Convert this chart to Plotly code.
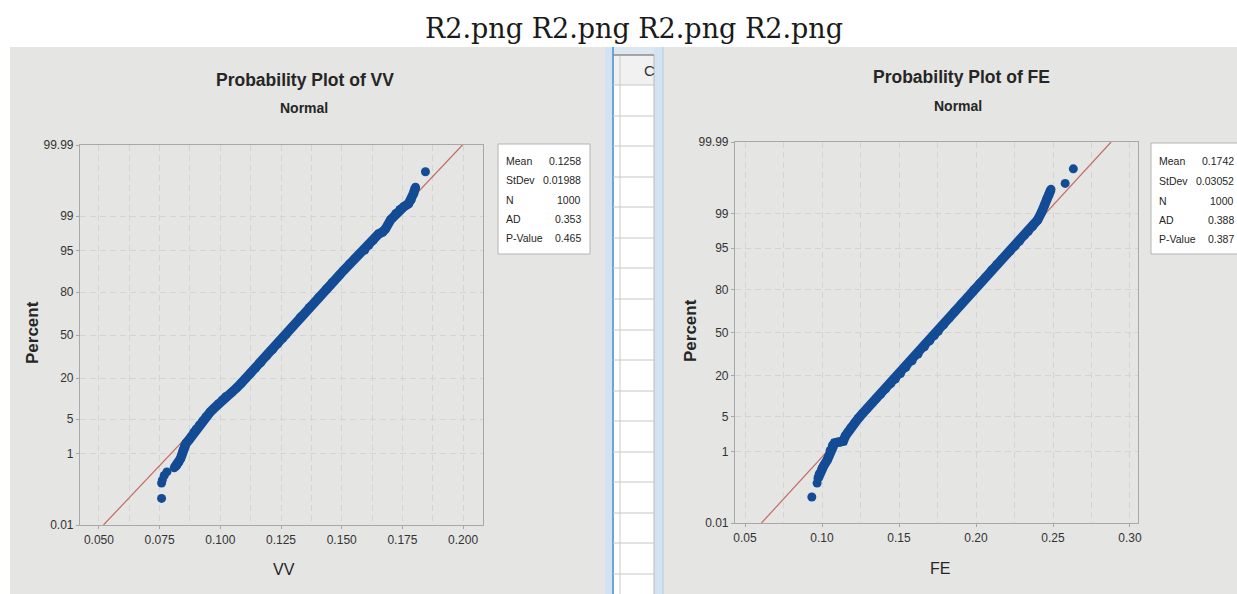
from statistics import NormalDist
import plotly.graph_objects as go

W, H = 1237, 594
ND = NormalDist()

# ---------------------------------------------------------------- data ----
# VV sample: ordered values with their plotting-position percentages
vv_values = [0.0758, 0.0758, 0.0761, 0.0769, 0.0780,
             0.0810, 0.0821, 0.0829, 0.0836, 0.0842, 0.0846, 0.0852, 0.0859, 0.0870, 0.0880,
             0.0891, 0.0901, 0.0914, 0.0927, 0.0941, 0.0958, 0.0973, 0.0991, 0.1008, 0.1021,
             0.1048, 0.1066, 0.1085, 0.1105, 0.1125, 0.1145, 0.1167, 0.1191, 0.1216, 0.1237,
             0.1258, 0.1271, 0.1295, 0.1330, 0.1367, 0.1406, 0.1437, 0.1462, 0.1490, 0.1507,
             0.1532, 0.1553, 0.1568, 0.1595, 0.1612, 0.1630, 0.1652, 0.1668, 0.1680, 0.1702,
             0.1723, 0.1740, 0.1756, 0.1775, 0.1786, 0.1796, 0.1804,
             0.1845]
vv_percent = [0.069, 0.187, 0.226, 0.298, 0.368,
              0.466, 0.539, 0.639, 0.776, 0.964, 1.19, 1.46, 1.70, 1.97, 2.33,
              2.87, 3.29, 3.92, 4.65, 5.48, 6.55, 7.49, 8.85, 10.2, 11.3,
              13.1, 14.9, 17.1, 19.8, 22.7, 25.8, 29.5, 34.1, 39.0, 43.2,
              47.6, 50.4, 56.0, 63.7, 70.5, 77.0, 81.6, 84.8, 87.9, 89.6,
              91.8, 93.2, 94.1, 95.2, 96.1, 96.8, 97.6, 97.8, 98.1, 98.8,
              99.13, 99.30, 99.40, 99.49, 99.59, 99.72, 99.81,
              99.93]
vv_dense = (5, 62)          # index run where the points merge into a band

# FE sample
fe_values = [0.0934, 0.0968, 0.0974, 0.0982, 0.1000, 0.1013,
             0.1034, 0.1045, 0.1053, 0.1068, 0.1082, 0.1100, 0.1118, 0.1138, 0.1152,
             0.1168, 0.1186, 0.1210, 0.1235, 0.1264, 0.1291, 0.1322, 0.1352, 0.1382,
             0.1414, 0.1447, 0.1476, 0.1510, 0.1545, 0.1585, 0.1624, 0.1665, 0.1700,
             0.1730, 0.1755, 0.1790, 0.1826, 0.1863, 0.1906, 0.1945, 0.1985, 0.2022,
             0.2062, 0.2102, 0.2136, 0.2168, 0.2200, 0.2222, 0.2253, 0.2283, 0.2314,
             0.2340, 0.2368, 0.2400, 0.2425, 0.2445, 0.2460, 0.2474, 0.2487,
             0.2579, 0.2632]
fe_percent = [0.066, 0.164, 0.219, 0.289, 0.40, 0.48,
              0.64, 0.80, 1.07, 1.39, 1.55, 1.60, 1.62, 1.70, 2.17,
              2.62, 3.14, 3.84, 4.65, 5.71, 6.81, 8.23, 9.85, 11.5,
              13.6, 15.9, 18.1, 21.2, 24.8, 29.1, 33.7, 39.0, 43.6,
              47.6, 51.0, 56.0, 61.0, 65.9, 71.2, 75.5, 79.7, 82.9,
              86.0, 88.9, 90.8, 92.4, 93.7, 94.4, 95.4, 96.3, 97.1,
              97.6, 98.1, 98.6, 99.04, 99.34, 99.55, 99.65, 99.74,
              99.82, 99.93]
fe_dense = (2, 59)

percent_ticks = [0.01, 1, 5, 20, 50, 80, 95, 99, 99.99]
percent_labels = ["0.01", "1", "5", "20", "50", "80", "95", "99", "99.99"]

vv_ticks = [0.050, 0.075, 0.100, 0.125, 0.150, 0.175, 0.200]
vv_tick_labels = ["0.050", "0.075", "0.100", "0.125", "0.150", "0.175", "0.200"]
fe_ticks = [0.05, 0.10, 0.15, 0.20, 0.25, 0.30]
fe_tick_labels = ["0.05", "0.10", "0.15", "0.20", "0.25", "0.30"]

stat_names = ["Mean", "StDev", "N", "AD", "P-Value"]
vv_stats = ["0.1258", "0.01988", "1000", "0.353", "0.465"]
fe_stats = ["0.1742", "0.03052", "1000", "0.388", "0.387"]
vv_mean, vv_sd = 0.1258, 0.01988
fe_mean, fe_sd = 0.1742, 0.03052

# ---------------------------------------------------------------- style ---
BLUE = "#134b95"
FIT = "#c46a64"
GRID = "#d4d4d4"
FRAME = "#a8a8a8"
PANEL = "#e5e5e3"
TXT = "#262626"
SANS = "Liberation Sans, Arial, sans-serif"


def px(x):
    return x / W


def py(y):
    return 1 - y / H


def z(p):
    return ND.inv_cdf(p / 100.0)


Z_LO, Z_HI = z(percent_ticks[0]), z(percent_ticks[-1])

panels = [
    dict(title="Probability Plot of VV", xlabel="VV", values=vv_values, percent=vv_percent,
         dense=vv_dense, mean=vv_mean, sd=vv_sd, stats=vv_stats,
         ticks=vv_ticks, tick_labels=vv_tick_labels, minor=0.0125,
         frame=(80, 145, 483, 525), xrange=(0.0422, 0.2082),
         title_xy=(305, 80), sub_xy=(304, 108), xlab_xy=(284, 569), ylab_xy=(33, 333),
         box=(498, 144, 590, 254), stat_x=(504, 583), stat_y=[161, 180, 200, 219, 238]),
    dict(title="Probability Plot of FE", xlabel="FE", values=fe_values, percent=fe_percent,
         dense=fe_dense, mean=fe_mean, sd=fe_sd, stats=fe_stats,
         ticks=fe_ticks, tick_labels=fe_tick_labels, minor=0.025,
         frame=(735, 142, 1138, 523), xrange=(0.0435, 0.3052),
         title_xy=(961, 77), sub_xy=(958, 106), xlab_xy=(940, 568), ylab_xy=(690, 330),
         box=(1151, 143, 1262, 254), stat_x=(1157, 1236), stat_y=[161, 181, 201, 220, 239]),
]

fig = go.Figure()
shapes = []
annotations = []


def rect(x0, y0, x1, y1, fill, line=None, width=0, layer="below"):
    shapes.append(dict(type="rect", xref="paper", yref="paper",
                       x0=px(x0), x1=px(x1), y0=py(y1), y1=py(y0),
                       fillcolor=fill, layer=layer,
                       line=dict(color=line or fill, width=width)))


def hline(x0, x1, y, color, width=1):
    shapes.append(dict(type="line", xref="paper", yref="paper",
                       x0=px(x0), x1=px(x1), y0=py(y), y1=py(y),
                       line=dict(color=color, width=width), layer="below"))


def vline(x, y0, y1, color, width=1):
    shapes.append(dict(type="line", xref="paper", yref="paper",
                       x0=px(x), x1=px(x), y0=py(y0), y1=py(y1),
                       line=dict(color=color, width=width), layer="below"))


def text(s, x, y, size, family=SANS, weight="normal", xanchor="center", angle=0, color=TXT):
    annotations.append(dict(text=s, xref="paper", yref="paper", x=px(x), y=py(y),
                            xanchor=xanchor, yanchor="middle", showarrow=False,
                            textangle=angle,
                            font=dict(family=family, size=size, color=color, weight=weight)))


# window backgrounds: two graph panes with a worksheet column between them
rect(10, 47, 605, 594, PANEL)
rect(663, 47, 1237, 594, PANEL)
rect(605, 47, 613, 594, "#d3e3f3")
rect(654, 47, 663, 594, "#d3e3f3")
rect(613, 47, 654, 55, "#dde7f0")
rect(613, 55, 654, 594, "#ffffff")
rect(613, 55, 654, 85, "#f1f1f1")
vline(613, 47, 594, "#6fa3d6", 2)
vline(663, 47, 594, "#b9cbe0", 1)
vline(620, 55, 594, "#c9c9c9", 1)
vline(654, 55, 594, "#b8b8b8", 1)
hline(613, 654, 55, "#8c8c8c", 1.5)
for row_y in [85, 116, 146, 177, 207, 238, 268, 299, 330, 360, 391, 421, 452, 482, 513, 543, 574]:
    hline(613, 654, row_y, "#c6c6c6", 1)
text("C", 649, 71, 15, color="#333333")

text("R2.png R2.png R2.png R2.png", 634, 28, 27, family="DejaVu Serif", color="#1a1a1a")

layout_axes = {}
for i, p in enumerate(panels, start=1):
    xa, ya = ("x", "y") if i == 1 else (f"x{i}", f"y{i}")
    fx0, fy0, fx1, fy1 = p["frame"]

    zs = [z(v) for v in p["percent"]]
    a, b = p["dense"]

    # fitted normal line from the reported mean and standard deviation
    fig.add_trace(go.Scatter(
        x=[p["mean"] + p["sd"] * Z_LO, p["mean"] + p["sd"] * Z_HI], y=[Z_LO, Z_HI],
        mode="lines", line=dict(color=FIT, width=1.2), xaxis=xa, yaxis=ya,
        hoverinfo="skip"))
    # the densely packed run of points
    fig.add_trace(go.Scatter(
        x=p["values"][a:b], y=zs[a:b], mode="lines",
        line=dict(color=BLUE, width=9.5), xaxis=xa, yaxis=ya, hoverinfo="skip"))
    fig.add_trace(go.Scatter(
        x=p["values"], y=zs, mode="markers",
        marker=dict(color=BLUE, size=9, line=dict(width=0)),
        xaxis=xa, yaxis=ya))

    axis_common = dict(showline=True, mirror=True, linecolor=FRAME, linewidth=1.2,
                       zeroline=False, ticks="outside", ticklen=3, tickcolor=FRAME,
                       automargin=False,
                       tickfont=dict(family=SANS, size=12, color="#333333"),
                       showgrid=True, gridcolor=GRID, gridwidth=1, griddash="6px,4px")
    layout_axes["xaxis" if i == 1 else f"xaxis{i}"] = dict(
        axis_common, domain=[px(fx0), px(fx1)], range=list(p["xrange"]),
        anchor=ya, tickmode="array", tickvals=p["ticks"], ticktext=p["tick_labels"],
        minor=dict(tickmode="linear", tick0=p["ticks"][0], dtick=p["minor"],
                   showgrid=True, gridcolor=GRID, gridwidth=1, griddash="6px,4px",
                   ticks=""))
    layout_axes["yaxis" if i == 1 else f"yaxis{i}"] = dict(
        axis_common, domain=[py(fy1), py(fy0)], range=[Z_LO, Z_HI], anchor=xa,
        tickmode="array", tickvals=[z(t) for t in percent_ticks], ticktext=percent_labels)

    # titles and axis labels
    text(p["title"], p["title_xy"][0], p["title_xy"][1], 17.5, weight="bold")
    text("Normal", p["sub_xy"][0], p["sub_xy"][1], 14, weight="bold")
    text(p["xlabel"], p["xlab_xy"][0], p["xlab_xy"][1], 16)
    text("Percent", p["ylab_xy"][0], p["ylab_xy"][1], 17, weight="bold", angle=-90)

    # statistics table
    bx0, by0, bx1, by1 = p["box"]
    rect(bx0, by0, bx1, by1, "#ffffff", line="#b4b4b4", width=1, layer="above")
    for name, val, ry in zip(stat_names, p["stats"], p["stat_y"]):
        text(name, p["stat_x"][0], ry, 10.5, xanchor="left")
        text(val, p["stat_x"][1], ry, 10.5, xanchor="right")

fig.update_layout(
    width=W, height=H, margin=dict(l=0, r=0, t=0, b=0, autoexpand=False),
    paper_bgcolor="#ffffff", plot_bgcolor="#ffffff",
    showlegend=False, shapes=shapes, annotations=annotations,
    **layout_axes)

fig.write_html("out.html")
